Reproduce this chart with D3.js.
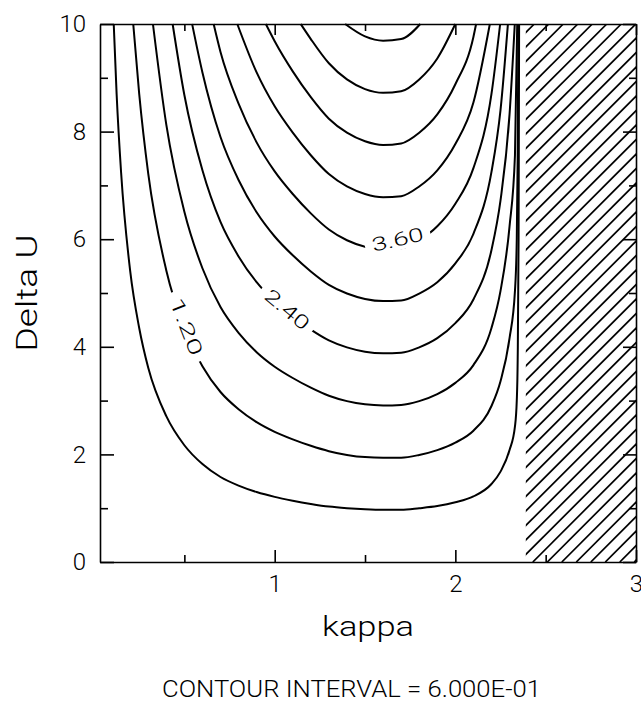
<!DOCTYPE html>
<html>
<head>
  <script src="https://d3js.org/d3.v7.min.js"></script>
  <style>
    body { margin: 0; background: #fff; }
    .chart text { font-family: Roboto, "Liberation Sans", Arial, sans-serif; font-weight: 300; fill: #000; }
    .contour { fill: none; stroke: #000; stroke-width: 2; }
    .hatch line { stroke: #000; stroke-width: 1.7; }
  </style>
</head>
<body>
  <svg class="chart" width="641" height="702"></svg>
  <script>
    // contour levels, interval 0.6
    var levels = [0.6, 1.2, 1.8, 2.4, 3.0, 3.6, 4.2, 4.8, 5.4, 6.0];

    // contour lines, [kappa, Delta U]
    var c060 = [[0.109, 10], [0.125, 8.70], [0.15, 7.23], [0.2, 5.41], [0.25, 4.35], [0.3, 3.61], [0.4, 2.71], [0.5, 2.17], [0.6, 1.82], [0.7, 1.58], [0.8, 1.42], [0.9, 1.30], [1.0, 1.21], [1.1, 1.14], [1.2, 1.08], [1.3, 1.03], [1.4, 1.00], [1.5, 0.98], [1.6, 0.97], [1.7, 0.97], [1.8, 1.00], [1.9, 1.04], [2.0, 1.11], [2.1, 1.22], [2.2, 1.45], [2.25, 1.68], [2.3, 2.08], [2.33, 2.52], [2.34, 3.00], [2.345, 3.75], [2.35, 6.00], [2.353, 10]];
    var c120 = [[0.217, 10], [0.25, 8.70], [0.3, 7.22], [0.4, 5.42], [0.5, 4.34], [0.6, 3.64], [0.7, 3.16], [0.8, 2.84], [0.9, 2.60], [1.0, 2.42], [1.1, 2.28], [1.2, 2.16], [1.3, 2.06], [1.4, 1.99], [1.5, 1.95], [1.6, 1.94], [1.7, 1.94], [1.8, 1.99], [1.9, 2.08], [2.0, 2.22], [2.1, 2.44], [2.2, 2.90], [2.25, 3.36], [2.3, 4.16], [2.33, 5.04], [2.34, 6.00], [2.345, 7.50], [2.349, 10]];
    var c180 = [[0.326, 10], [0.4, 8.13], [0.5, 6.51], [0.6, 5.46], [0.7, 4.74], [0.8, 4.26], [0.9, 3.90], [1.0, 3.63], [1.1, 3.42], [1.2, 3.24], [1.3, 3.09], [1.4, 2.99], [1.5, 2.93], [1.6, 2.91], [1.7, 2.92], [1.8, 2.99], [1.9, 3.12], [2.0, 3.33], [2.1, 3.66], [2.2, 4.35], [2.25, 5.04], [2.3, 6.24], [2.33, 7.56], [2.3425, 10]];
    var c240 = [[0.435, 10], [0.5, 8.68], [0.6, 7.28], [0.7, 6.32], [0.8, 5.68], [0.9, 5.20], [1.0, 4.84], [1.1, 4.56], [1.2, 4.32], [1.3, 4.12], [1.4, 3.99], [1.5, 3.91], [1.6, 3.88], [1.7, 3.89], [1.8, 3.99], [1.9, 4.16], [2.0, 4.44], [2.1, 4.88], [2.2, 5.80], [2.25, 6.72], [2.3, 8.32], [2.329, 10]];
    var c300 = [[0.543, 10], [0.6, 9.10], [0.7, 7.90], [0.8, 7.10], [0.9, 6.50], [1.0, 6.05], [1.1, 5.70], [1.2, 5.40], [1.3, 5.15], [1.4, 4.99], [1.5, 4.89], [1.6, 4.85], [1.7, 4.86], [1.8, 4.99], [1.9, 5.20], [2.0, 5.55], [2.1, 6.10], [2.2, 7.25], [2.25, 8.40], [2.291, 10]];
    var c360 = [[0.662, 10], [0.7, 9.48], [0.8, 8.52], [0.9, 7.80], [1.0, 7.26], [1.1, 6.84], [1.2, 6.48], [1.3, 6.18], [1.4, 5.98], [1.5, 5.86], [1.6, 5.82], [1.7, 5.83], [1.8, 5.98], [1.9, 6.24], [2.0, 6.66], [2.1, 7.32], [2.2, 8.70], [2.248, 10]];
    var c420 = [[0.793, 10], [0.9, 9.10], [1.0, 8.47], [1.1, 7.98], [1.2, 7.56], [1.3, 7.21], [1.4, 6.98], [1.5, 6.84], [1.6, 6.78], [1.7, 6.80], [1.8, 6.98], [1.9, 7.28], [2.0, 7.77], [2.1, 8.54], [2.191, 10]];
    var c480 = [[0.951, 10], [1.0, 9.68], [1.1, 9.12], [1.2, 8.64], [1.3, 8.24], [1.4, 7.98], [1.5, 7.82], [1.6, 7.75], [1.7, 7.78], [1.8, 7.98], [1.9, 8.32], [2.0, 8.88], [2.1, 9.76], [2.115, 10]];
    var c540 = [[1.144, 10], [1.2, 9.72], [1.3, 9.27], [1.4, 8.97], [1.5, 8.79], [1.6, 8.72], [1.7, 8.75], [1.8, 8.97], [1.9, 9.36], [2.0, 10]];
    var c600 = [[1.39, 10], [1.5, 9.77], [1.6, 9.69], [1.7, 9.72], [1.806, 10]];
    var contourLines = [c060, c120, c180, c240, c300, c360, c420, c480, c540, c600];

    // labelled contours: level index, text, kappa span of the gap
    var labelIndex = [1, 3, 5];
    var labelText = ['1.20', '2.40', '3.60'];
    var labelKappa = [[0.437, 0.587], [0.93, 1.21], [1.50, 1.86]];

    // region with no solution (hatched), in kappa
    var hatchKappa = [2.39, 3.0];

    var xMajor = [1, 2, 3];
    var xMinor = [0.5, 1.5, 2.5];
    var yMajor = [0, 2, 4, 6, 8, 10];
    var yMinor = [1, 3, 5, 7, 9];

    var svg = d3.select('.chart');
    svg.append('rect').attr('width', 641).attr('height', 702).attr('fill', '#fff');

    var x = d3.scaleLinear().domain([0.033, 3]).range([100, 636]);
    var y = d3.scaleLinear().domain([0, 10]).range([562, 24]);

    // hatched region
    svg.append('clipPath').attr('id', 'hatch-clip')
      .append('rect')
      .attr('x', x(hatchKappa[0]))
      .attr('y', y(10))
      .attr('width', x(hatchKappa[1]) - x(hatchKappa[0]))
      .attr('height', y(0) - y(10));

    var h = y(0) - y(10);
    var x0 = x(hatchKappa[0]);
    var step = 14.5;
    var offsets = d3.range(7 - Math.ceil(h / step) * step, x(hatchKappa[1]) - x0 + step, step);
    svg.append('g')
      .attr('class', 'hatch')
      .attr('clip-path', 'url(#hatch-clip)')
      .selectAll('line')
      .data(offsets)
      .enter()
      .append('line')
      .attr('x1', function (d) { return x0 + d; })
      .attr('y1', y(0))
      .attr('x2', function (d) { return x0 + d + h; })
      .attr('y2', y(10));

    // contour lines
    var line = d3.line()
      .x(function (d) { return x(d[0]); })
      .y(function (d) { return y(d[1]); })
      .curve(d3.curveMonotoneX);

    svg.append('g')
      .selectAll('path')
      .data(contourLines)
      .enter()
      .append('path')
      .attr('class', 'contour')
      .attr('d', line);

    // Delta U on a contour line at a given kappa
    function valueAt(pts, k) {
      var i = d3.bisector(function (d) { return d[0]; }).left(pts, k);
      i = Math.max(1, Math.min(pts.length - 1, i));
      var a = pts[i - 1], b = pts[i];
      return a[1] + (b[1] - a[1]) * (k - a[0]) / (b[0] - a[0]);
    }

    // contour labels sit in a gap of the line
    labelIndex.forEach(function (li, n) {
      var pts = contourLines[li];
      var k0 = labelKappa[n][0], k1 = labelKappa[n][1];
      var p0 = [x(k0), y(valueAt(pts, k0))];
      var p1 = [x(k1), y(valueAt(pts, k1))];
      var len = Math.hypot(p1[0] - p0[0], p1[1] - p0[1]);
      var ang = Math.atan2(p1[1] - p0[1], p1[0] - p0[0]) * 180 / Math.PI;
      var g = svg.append('g')
        .attr('transform', 'translate(' + (p0[0] + p1[0]) / 2 + ',' + (p0[1] + p1[1]) / 2 + ') rotate(' + ang + ')');
      g.append('rect')
        .attr('x', -len / 2)
        .attr('y', -11)
        .attr('width', len)
        .attr('height', 22)
        .attr('fill', '#fff');
      g.append('text')
        .attr('text-anchor', 'middle')
        .attr('dy', '0.36em')
        .attr('font-size', 19)
        .attr('textLength', len - 14)
        .attr('lengthAdjust', 'spacingAndGlyphs')
        .text(labelText[n]);
    });

    // axes, ticks pointing inward on all four sides
    function styleAxis(sel) {
      sel.selectAll('path, line').attr('stroke', '#000').attr('stroke-width', 1.6);
      sel.selectAll('text').attr('font-size', 24).attr('font-family', null);
    }
    function minor(sel) {
      sel.select('.domain').remove();
      styleAxis(sel);
    }

    svg.append('g').attr('transform', 'translate(0,' + y(0) + ')')
      .call(d3.axisBottom(x).tickValues(xMajor).tickSize(-12).tickSizeOuter(0).tickPadding(13).tickFormat(d3.format('d')))
      .call(styleAxis);
    svg.append('g').attr('transform', 'translate(0,' + y(0) + ')')
      .call(d3.axisBottom(x).tickValues(xMinor).tickSize(-7).tickFormat(''))
      .call(minor);
    svg.append('g').attr('transform', 'translate(0,' + y(10) + ')')
      .call(d3.axisTop(x).tickValues(xMajor).tickSize(-11).tickSizeOuter(0).tickFormat(''))
      .call(styleAxis);
    svg.append('g').attr('transform', 'translate(0,' + y(10) + ')')
      .call(d3.axisTop(x).tickValues(xMinor).tickSize(-7).tickFormat(''))
      .call(minor);

    svg.append('g').attr('transform', 'translate(' + x(0.033) + ',0)')
      .call(d3.axisLeft(y).tickValues(yMajor).tickSize(-14).tickSizeOuter(0).tickPadding(14).tickFormat(d3.format('d')))
      .call(styleAxis);
    svg.append('g').attr('transform', 'translate(' + x(0.033) + ',0)')
      .call(d3.axisLeft(y).tickValues(yMinor).tickSize(-8).tickFormat(''))
      .call(minor);
    svg.append('g').attr('transform', 'translate(' + x(3) + ',0)')
      .call(d3.axisRight(y).tickValues(yMajor).tickSize(-13).tickSizeOuter(0).tickFormat(''))
      .call(styleAxis);
    svg.append('g').attr('transform', 'translate(' + x(3) + ',0)')
      .call(d3.axisRight(y).tickValues(yMinor).tickSize(-7).tickFormat(''))
      .call(minor);

    // axis titles
    svg.append('text')
      .attr('x', 368)
      .attr('y', 636)
      .attr('text-anchor', 'middle')
      .attr('font-size', 28)
      .attr('textLength', 92)
      .attr('lengthAdjust', 'spacingAndGlyphs')
      .text('kappa');

    svg.append('text')
      .attr('transform', 'translate(37,293) rotate(-90)')
      .attr('text-anchor', 'middle')
      .attr('font-size', 30)
      .attr('textLength', 117)
      .attr('lengthAdjust', 'spacingAndGlyphs')
      .text('Delta U');

    svg.append('text')
      .attr('x', 351.5)
      .attr('y', 697)
      .attr('text-anchor', 'middle')
      .attr('font-size', 24)
      .attr('textLength', 379)
      .attr('lengthAdjust', 'spacingAndGlyphs')
      .text('CONTOUR INTERVAL = 6.000E-01');
  </script>
</body>
</html>
